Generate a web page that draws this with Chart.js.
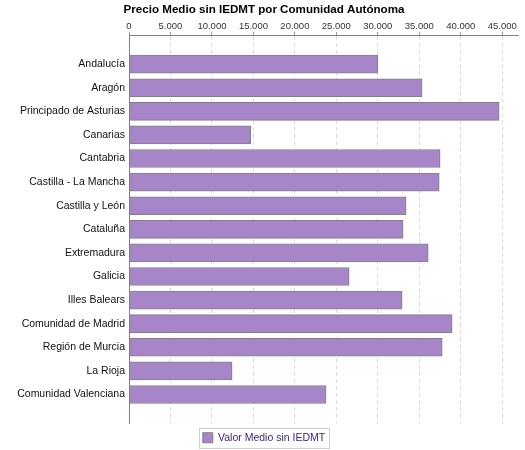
<!DOCTYPE html>
<html>
<head>
<meta charset="utf-8">
<title>Precio Medio sin IEDMT por Comunidad Autónoma</title>
<script src="https://cdn.jsdelivr.net/npm/chart.js@4"></script>
<style>
  html, body { margin: 0; padding: 0; background: #fff; overflow: hidden; }
  #wrap { width: 525px; height: 450px; }
</style>
</head>
<body>
<div id="wrap"><canvas id="chart"></canvas></div>
<script>
const regions = [
  "Andalucía", "Aragón", "Principado de Asturias", "Canarias", "Cantabria",
  "Castilla - La Mancha", "Castilla y León", "Cataluña", "Extremadura", "Galicia",
  "Illes Balears", "Comunidad de Madrid", "Región de Murcia", "La Rioja",
  "Comunidad Valenciana"
];
const valorMedio = [
  29990, 35340, 44630, 14670, 37510,
  37400, 33410, 33050, 36070, 26540,
  32930, 38960, 37760, 12430, 23760
];
const xTicks = [0, 5000, 10000, 15000, 20000, 25000, 30000, 35000, 40000, 45000];
const seriesName = "Valor Medio sin IEDMT";
const chartTitle = "Precio Medio sin IEDMT por Comunidad Autónoma";

Chart.defaults.font.family = "'Liberation Sans', Arial, sans-serif";

function formatThousands(v) {
  return String(v).replace(/\B(?=(\d{3})+(?!\d))/g, ".");
}

// draws the thin grey frame round the legend item
const legendFrame = {
  id: "legendFrame",
  afterDraw(chart) {
    const box = chart.legend && chart.legend.legendHitBoxes && chart.legend.legendHitBoxes[0];
    if (!box) return;
    const ctx = chart.ctx;
    ctx.save();
    ctx.strokeStyle = "#d0d0d0";
    ctx.lineWidth = 1;
    ctx.strokeRect(Math.round(box.left - 4) + 0.5, Math.round(box.top - 5) + 0.5,
      Math.round(box.width + 8), Math.round(box.height + 9));
    ctx.restore();
  }
};

new Chart(document.getElementById("chart"), {
  type: "bar",
  data: {
    datasets: [{
      label: seriesName,
      data: valorMedio.map((v, i) => ({ x: v, y: i })),
      backgroundColor: "#a685c8",
      borderColor: "#808080",
      borderWidth: 1,
      borderSkipped: false,
      barThickness: 18
    }]
  },
  options: {
    indexAxis: "y",
    responsive: true,
    maintainAspectRatio: false,
    animation: false,
    layout: { padding: { left: 10, right: 7, top: 0, bottom: -3 } },
    scales: {
      x: {
        position: "top",
        bounds: "data",
        min: 0,
        max: 46900,
        afterBuildTicks: s => { s.ticks = xTicks.map(v => ({ value: v })); },
        ticks: {
          padding: 0,
          color: "#333",
          font: { size: 9.5 },
          maxRotation: 0,
          autoSkip: false,
          callback: v => formatThousands(v)
        },
        grid: { color: "#dcdcdc", tickLength: 3, tickColor: "#999" },
        border: { color: "#808080", dash: [4, 3] },
        afterFit: s => { s.height = 16.2; }
      },
      y: {
        type: "linear",
        reverse: true,
        bounds: "data",
        offset: false,
        min: -1.23,
        max: 15.23,
        afterBuildTicks: s => { s.ticks = regions.map((r, i) => ({ value: i })); },
        ticks: {
          autoSkip: false,
          padding: 4,
          color: "#111",
          font: { size: 10.5 },
          callback: v => regions[v] !== undefined ? regions[v] : ""
        },
        grid: { display: false, offset: false, drawTicks: false, tickLength: 0 },
        border: { color: "#808080" },
        afterFit: s => { s.width = 119; }
      }
    },
    plugins: {
      title: {
        display: true,
        text: chartTitle,
        color: "#000",
        font: { size: 11.6, weight: "bold" },
        padding: { top: 3, bottom: 2 }
      },
      legend: {
        position: "bottom",
        labels: {
          boxWidth: 10,
          boxHeight: 10,
          padding: 9,
          color: "#3a1e7a",
          font: { size: 10.5 }
        }
      },
      tooltip: { enabled: false }
    }
  },
  plugins: [legendFrame]
});
</script>
</body>
</html>
